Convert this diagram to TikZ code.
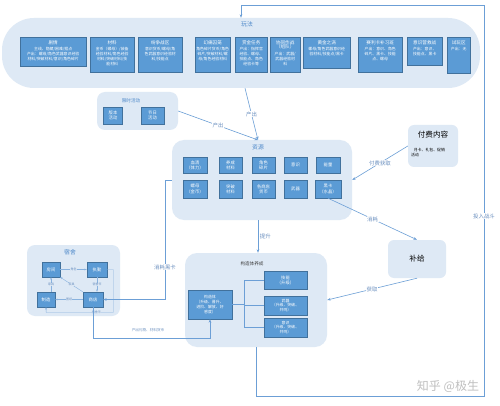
\documentclass[tikz,border=0pt]{standalone}
\usepackage{fontspec}
\setmainfont{Noto Sans CJK SC}
\usetikzlibrary{arrows.meta}
\definecolor{cbg}{HTML}{DEE9F5}
\definecolor{bfill}{HTML}{5B9BD5}
\definecolor{bdraw}{HTML}{41719C}
\definecolor{lnc}{HTML}{6C9FD6}
\definecolor{ttl}{HTML}{4A86C8}
\definecolor{lbc}{HTML}{6A8FBF}
\newcommand\fsA{\fontsize{3.9}{4.8}\selectfont}
\newcommand\fsR{\fontsize{4.3}{5.2}\selectfont}
\newcommand\fsB{\fontsize{4.6}{5.4}\selectfont}
\newcommand\fsL{\fontsize{5.4}{6.2}\selectfont}
\newcommand\fsC{\fontsize{5.8}{6.6}\selectfont}
\newcommand\fsD{\fontsize{7.6}{9}\selectfont}
\newcommand\wbox[6]{%
  \node[tbox, anchor=north west, minimum width={#3pt-#2pt}, minimum height={#4pt-37pt}] (#1) at (#2,37) {};
  \node[anchor=north, align=center, text=white, inner sep=0pt, font=\fsA] at ([yshift=-3pt]#1.north) {#5\\[2pt]#6};
}
\begin{document}
\begin{tikzpicture}[x=1pt,y=-1pt,
  cont/.style={fill=cbg, draw=none, rounded corners=#1, inner sep=0pt},
  cont/.default=10pt,
  tbox/.style={fill=bfill, draw=bdraw, line width=0.4pt, text=white, align=center, inner sep=0.5pt, font=\fsR},
  ctitle/.style={text=ttl, font=\fsC, inner sep=0pt},
  conn/.style={draw=lnc, line width=0.6pt, -{Stealth[length=3.5pt,width=2.6pt]}},
  plain/.style={draw=lnc, line width=0.6pt},
  sconn/.style={draw=lnc!80, line width=0.4pt, -{Stealth[length=2.4pt,width=1.8pt]}},
  lbl/.style={text=lbc, fill=white, inner sep=0.6pt, font=\fsL},
  slbl/.style={text=lbc, fill=cbg, inner sep=0.3pt, font=\fontsize{3}{3.4}\selectfont}]
\useasboundingbox (0,0) rectangle (500,406);
\fill[white] (0,0) rectangle (500,406);

% ---- 玩法 ----
\node[cont=32pt, minimum width=478pt, minimum height=70pt] (wanfa) at (241,53) {};
\node[ctitle] (wanfat) at (247,24) {玩法};
\wbox{w1}{20}{86}{66}{{\fsB 剧情}}{主线、隐藏/困难/据点\\产出：螺母/角色武器意识经验\\材料/突破材料/意识/角色碎片}
\wbox{w2}{90}{134}{72}{{\fsB 材料}}{金币（螺母）/装备\\经验材料/角色经验\\材料/突破材料/技\\能材料}
\wbox{w3}{138}{182}{72}{{\fsB 纷争战区}}{意识货币/螺母/角\\色武器意识经验材\\料/技能点}
\wbox{w4}{195}{230}{72}{{\fsB 幻痛囚笼}}{角色碎片货币/角色\\碎片/突破材料/螺\\母/角色经验材料}
\wbox{w5}{235}{267}{72}{{\fsB 赏金任务}}{产出：指挥官\\经验、螺母、\\技能点、角色\\经验卡等}
\wbox{w6}{270}{300}{72}{{\fsB 协同作战}\\{\fsB （组队）}}{产出：武器/\\武器经验材\\料}
\wbox{w7}{303}{350}{68}{{\fsB 黄金之涡}}{螺母/角色武器意识经\\验材料/技能点/黑卡}
\wbox{w8}{358}{402}{72}{{\fsB 赛利卡补习班}}{产出：意识、角色\\碎片、黑卡、技能\\点、螺母}
\wbox{w9}{407}{442}{65}{{\fsB 意识营救战}}{产出：意识、\\技能点、黑卡}
\wbox{w10}{447}{470}{73}{{\fsB 试玩区}}{产出：无}

% ---- 限时活动 ----
\node[cont=8pt, minimum width=81pt, minimum height=38pt] (xianshi) at (137.5,111) {};
\node[ctitle, font=\fsB] (xianshit) at (131,101) {限时活动};
\node[tbox, minimum width=19pt, minimum height=17pt] (xs1) at (113,115.5) {版本\\活动};
\node[tbox, minimum width=23pt, minimum height=17pt] (xs2) at (152.5,115.5) {节日\\活动};

% ---- 资源 ----
\node[cont=12pt, minimum width=180pt, minimum height=80pt] (ziyuan) at (262,180) {};
\node[ctitle] (ziyuant) at (258,147) {资源};
\node[tbox, minimum width=24pt, minimum height=16pt] (r1) at (195,165) {血清\\（体力）};
\node[tbox, minimum width=23pt, minimum height=16pt] (r2) at (230.5,165) {养成\\材料};
\node[tbox, minimum width=23pt, minimum height=16pt] (r3) at (263.5,165) {角色\\碎片};
\node[tbox, minimum width=23pt, minimum height=16pt] (r4) at (295.5,165) {意识};
\node[tbox, minimum width=24pt, minimum height=16pt] (r5) at (328,165) {能量};
\node[tbox, minimum width=24pt, minimum height=18pt] (r6) at (195,189) {螺母\\（金币）};
\node[tbox, minimum width=23pt, minimum height=18pt] (r7) at (230.5,189) {突破\\材料};
\node[tbox, minimum width=23pt, minimum height=18pt] (r8) at (263.5,189) {各商店\\货币};
\node[tbox, minimum width=23pt, minimum height=18pt] (r9) at (295.5,189) {武器};
\node[tbox, minimum width=26pt, minimum height=18pt] (r10) at (328,189) {黑卡\\（水晶）};

% ---- 付费内容 ----
\node[cont=6pt, minimum width=50pt, minimum height=42pt] (fufei) at (433,146) {};
\node[font=\fsD, inner sep=0pt] (fufeit) at (433,135) {付费内容};
\node[font=\fsA, align=left, anchor=north west, inner sep=0pt] (fufeic) at (411,148) {\ \ \ 月卡、礼包、促销\\活动};

% ---- 补给 ----
\node[cont=6pt, minimum width=58pt, minimum height=38pt, font=\fsD] (buji) at (417,259) {补给};

% ---- 构造体养成 ----
\node[cont=12pt, minimum width=142pt, minimum height=94pt] (gouzao) at (256,300) {};
\node[text=black!75, font=\fsB, inner sep=0pt] (gouzaot) at (252,264) {构造体养成};
\node[tbox, minimum width=44pt, minimum height=29pt, font=\fsA] (gzt) at (210,304.5) {构造体\\（升级、晋升、\\进阶、解放、好\\感度）};
\node[tbox, minimum width=43pt, minimum height=18pt] (jineng) at (285.5,280) {技能\\（升级）};
\node[tbox, minimum width=43pt, minimum height=19pt, font=\fsA] (wuqi) at (285.5,305.5) {武器\\（升级、突破、\\共鸣）};
\node[tbox, minimum width=43pt, minimum height=19pt, font=\fsA] (yishi) at (285.5,327.5) {意识\\（升级、突破、\\共鸣）};
\coordinate (bus) at (244,304.5);
\draw[plain] (gzt.east) -- (bus);
\draw[plain] (jineng.west) -| (bus);
\draw[plain] (yishi.west) -| (bus);
\draw[plain] (wuqi.west) -- (wuqi.west -| bus);

% ---- 宿舍 ----
\node[cont=8pt, minimum width=93pt, minimum height=71pt] (sushe) at (73.5,280.5) {};
\node[ctitle, font=\fsC] (sushet) at (70,252) {宿舍};
\node[tbox, minimum width=18pt, minimum height=15pt] (room) at (51,269.5) {房间};
\node[tbox, minimum width=20pt, minimum height=15pt] (zhiqin) at (97,269.5) {执勤};
\node[tbox, minimum width=18pt, minimum height=15pt] (make) at (46,299.5) {制造};
\node[tbox, minimum width=20pt, minimum height=15pt] (shop) at (93,299.5) {商店};
\draw[sconn] (room.east) -- node[slbl] {角色} (zhiqin.west);
\draw[sconn] (zhiqin.south) -- node[slbl] {宿舍币} (shop.north -| zhiqin.south);
\draw[sconn] (shop.north west) -- node[slbl] {家具} (room.south east);
\draw[sconn] (make.north -| room.south) -- node[slbl] {家具} (room.south);
\draw[sconn] (shop.west) -- node[slbl] {图纸} (make.east);
\draw[sconn] (zhiqin.east) -- ++(6,0) -- ++(0,43) -- node[slbl, pos=0.25] {宿舍币} ++(-67,0) -- (make.south);

% ---- connectors ----
\coordinate (zin) at (258,140);
\draw[conn] (wanfa.south -| 245,0) -- node[lbl, pos=0.5] {产出} (zin);
\draw[conn] (xianshi.east |- 0,111) -- node[lbl, pos=0.5] {产出} (zin);
\draw[conn] (fufei.west) -- node[lbl] {付费获取} (ziyuan.east);
\draw[conn] (r10.south) -- node[lbl] {消耗} (buji.north);
\draw[conn] (buji.south) -- node[lbl] {获取} (gouzao.east);
\draw[conn] (ziyuan.south -| 258,0) -- node[lbl, right=1pt, fill=none] {提升} (gouzao.north -| 258,0);
\draw[conn] (ziyuan.west) -- ++(-7,0) |- (shop.east);
\node[lbl] (xhhk) at (165,267) {消耗黑卡};
\draw[conn] (shop.south) -- ++(0,31) -| (gzt.south);
\node[lbl, font=\fontsize{3.6}{4.2}\selectfont] (ccl) at (148,330.5) {产出礼物、材料货币};
\draw[conn] (gouzao.south) -- ++(0,49) -| (484,5) -| (wanfa.north);
\node[lbl] (trzd) at (484,216) {投入战斗};

% ---- watermark ----
\node[text=black!25, font=\fontsize{12}{14}\selectfont, inner sep=0pt] (wm) at (448,386) {知乎 @极生};
\end{tikzpicture}
\end{document}
